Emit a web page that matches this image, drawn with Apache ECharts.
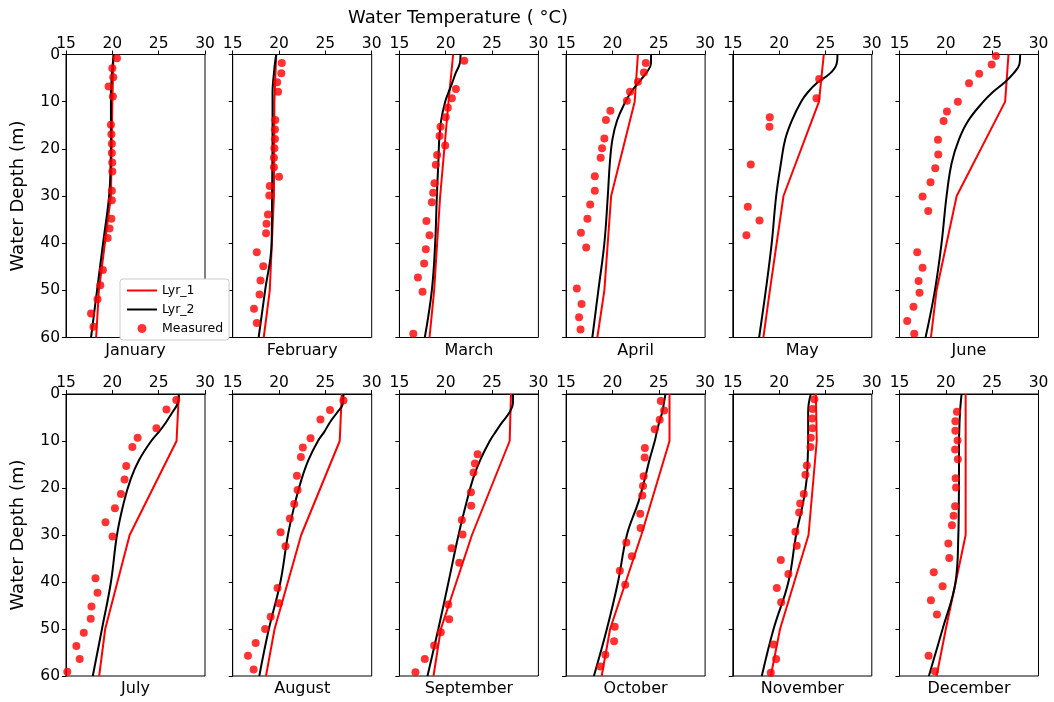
<!DOCTYPE html>
<html>
<head>
<meta charset="utf-8">
<script src="https://cdn.jsdelivr.net/npm/echarts@6/dist/echarts.min.js"></script>
<style>
  html, body { margin: 0; padding: 0; background: #fff; }
  #chart { width: 1054px; height: 702px; }
</style>
</head>
<body>
<div id="chart"></div>
<script>
// Monthly water temperature profiles: two model layers and measured values
const months = ['January', 'February', 'March', 'April', 'May', 'June',
                'July', 'August', 'September', 'October', 'November', 'December'];
const tempTicks = [15, 20, 25, 30];
const depthTicks = [0, 10, 20, 30, 40, 50, 60];

// Depths (m) at which each model layer is given
const lyr1Depth = [0, 10, 30, 50, 60];
const lyr2Depth = [0, 2, 4, 6, 8, 10, 14, 18, 23, 30, 40, 50, 60];

// Lyr_1 temperatures (°C) at lyr1Depth
const lyr1Jan = [20.13, 20.0, 19.85, 18.55, 18.25];
const lyr1Feb = [19.7, 19.5, 19.45, 19.0, 18.35];
const lyr1Mar = [20.8, 20.3, 19.4, 18.75, 18.25];
const lyr1Apr = [22.75, 22.4, 19.86, 19.13, 18.37];
const lyr1May = [24.82, 24.3, 20.47, 19.0, 18.3];
const lyr1Jun = [26.76, 26.4, 21.17, 19.0, 18.39];
const lyr1Jul = [27.18, 26.93, 21.87, 19.23, 18.58];
const lyr1Aug = [26.77, 26.55, 22.39, 19.52, 18.59];
const lyr1Sep = [27.04, 26.9, 22.83, 19.47, 18.68];
const lyr1Oct = [26.16, 26.16, 23.12, 19.75, 18.84];
const lyr1Nov = [23.96, 24.06, 23.17, 20.1, 19.1];
const lyr1Dec = [22.14, 22.14, 22.14, 20.0, 19.0];

// Lyr_2 temperatures (°C) at lyr2Depth
const lyr2Jan = [20.15, 20.05, 19.95, 19.9, 19.85, 19.85, 19.85, 19.85, 19.82, 19.65, 19.0, 18.35, 17.7];
const lyr2Feb = [19.7, 19.55, 19.45, 19.35, 19.3, 19.3, 19.3, 19.3, 19.28, 19.25, 19.2, 18.5, 17.8];
const lyr2Mar = [21.6, 21.5, 21.06, 20.7, 20.3, 19.94, 19.5, 19.3, 19.2, 19.04, 18.86, 18.5, 17.74];
const lyr2Apr = [24.17, 24.15, 23.6, 22.8, 22.0, 21.4, 20.5, 20.0, 19.72, 19.5, 19.13, 18.48, 17.83];
const lyr2May = [26.3, 26.2, 25.5, 24.1, 23.1, 22.37, 21.37, 20.65, 20.2, 19.68, 19.2, 18.56, 17.84];
const lyr2Jun = [28.02, 27.95, 27.3, 26.3, 25.05, 24.05, 22.43, 21.42, 20.63, 20.08, 19.54, 18.82, 17.81];
const lyr2Jul = [27.18, 27.05, 26.45, 25.8, 25.05, 24.2, 22.9, 22.0, 21.25, 20.5, 19.85, 18.88, 17.89];
const lyr2Aug = [26.95, 26.9, 26.25, 25.5, 24.9, 24.2, 23.18, 22.45, 21.75, 20.96, 20.15, 18.9, 17.87];
const lyr2Sep = [27.26, 27.25, 26.85, 26.1, 25.4, 24.75, 23.73, 22.95, 22.25, 21.38, 20.3, 19.2, 18.03];
const lyr2Oct = [25.72, 25.55, 25.36, 25.05, 24.8, 24.57, 24.0, 23.5, 22.8, 21.56, 20.6, 19.4, 18.0];
const lyr2Nov = [23.42, 23.2, 23.13, 23.13, 23.13, 23.13, 23.08, 22.98, 22.6, 21.83, 21.0, 19.4, 18.13];
const lyr2Dec = [21.7, 21.6, 21.53, 21.48, 21.45, 21.42, 21.42, 21.42, 21.4, 21.35, 21.05, 19.65, 18.17];

// Measured profiles as [depth (m), temperature (°C)]
const obsJan = [[0.8, 20.5], [2.9, 20.0], [4.8, 20.1], [6.8, 19.6], [8.9, 20.06], [14.9, 19.85],
  [16.9, 19.9], [18.9, 19.95], [20.9, 19.95], [22.9, 19.99], [24.8, 20.0], [28.9, 19.95],
  [30.9, 19.95], [34.8, 19.9], [36.9, 19.7], [38.9, 19.5], [45.7, 18.98], [48.9, 18.7],
  [51.9, 18.4], [54.9, 17.7], [57.7, 17.96]];
const obsFeb = [[1.8, 20.3], [4.0, 20.25], [5.9, 19.8], [7.9, 19.9], [13.9, 19.6], [15.9, 19.56],
  [17.9, 19.56], [19.9, 19.5], [21.9, 19.45], [23.9, 19.45], [25.9, 20.0], [27.9, 19.0],
  [29.9, 18.95], [33.9, 18.8], [35.9, 18.65], [37.9, 18.6], [41.9, 17.6], [44.9, 18.3],
  [47.9, 18.0], [50.9, 17.9], [53.9, 17.3], [56.9, 17.6]];
const obsMar = [[1.3, 22.0], [7.3, 21.1], [9.3, 20.66], [11.3, 20.23], [13.3, 20.0], [15.3, 19.44],
  [17.3, 19.33], [19.3, 19.94], [21.3, 19.07], [23.4, 18.93], [27.3, 18.79], [29.3, 18.64],
  [31.3, 18.5], [35.3, 17.92], [38.3, 18.25], [41.3, 17.85], [44.3, 17.67], [47.3, 17.0],
  [50.3, 17.5], [59.2, 16.5]];
const obsApr = [[1.8, 23.6], [3.8, 23.4], [5.8, 22.75], [7.9, 21.9], [9.8, 21.56], [11.9, 19.78],
  [13.9, 19.3], [17.8, 19.13], [19.9, 18.88], [21.9, 18.73], [25.8, 18.1], [28.9, 18.1],
  [31.8, 17.6], [34.8, 17.3], [37.8, 16.6], [40.9, 17.17], [49.6, 16.16], [52.9, 16.67],
  [55.7, 16.4], [58.3, 16.56]];
const obsMay = [[5.2, 24.32], [9.3, 24.03], [13.3, 18.99], [15.3, 18.96], [23.3, 16.94],
  [32.3, 16.62], [35.2, 17.88], [38.3, 16.47]];
const obsJun = [[0.3, 25.4], [2.1, 24.95], [4.1, 23.6], [6.1, 22.5], [10.0, 21.3], [12.1, 20.12],
  [14.1, 19.76], [18.1, 19.15], [21.2, 19.18], [24.1, 18.86], [27.1, 18.35], [30.1, 17.49],
  [33.2, 18.1], [41.9, 16.91], [45.2, 17.49], [48.0, 17.06], [50.5, 17.16], [53.5, 16.51],
  [56.5, 15.83], [59.2, 16.59]];
const obsJul = [[1.3, 26.9], [3.3, 25.84], [7.3, 24.76], [9.3, 22.73], [11.3, 22.16], [15.3, 21.5],
  [18.2, 21.32], [21.3, 20.93], [24.3, 20.28], [27.3, 19.26], [30.3, 20.02], [39.2, 18.18],
  [42.3, 18.4], [45.2, 17.75], [47.8, 17.67], [50.8, 16.92], [53.6, 16.12], [56.4, 16.48],
  [59.1, 15.14]];
const obsAug = [[1.4, 26.95], [3.4, 25.5], [5.4, 24.47], [9.4, 23.4], [11.4, 22.57], [13.4, 22.36],
  [17.4, 21.93], [20.4, 22.0], [23.4, 21.64], [26.5, 21.17], [29.4, 20.17], [32.4, 20.7],
  [41.3, 19.84], [44.5, 20.0], [47.4, 19.1], [50.0, 18.5], [53.0, 17.48], [55.7, 16.65],
  [58.6, 17.26]];
const obsSep = [[12.8, 23.44], [14.8, 23.15], [16.7, 23.0], [20.9, 22.72], [23.8, 22.75],
  [26.8, 21.74], [29.9, 21.82], [32.8, 20.63], [35.9, 21.46], [44.8, 20.27], [47.9, 20.37],
  [50.7, 19.47], [53.5, 18.75], [56.4, 17.74], [59.2, 16.73]];
const obsOct = [[1.5, 25.22], [3.5, 25.58], [5.5, 25.1], [7.5, 24.57], [11.5, 23.5], [13.5, 23.48],
  [17.5, 23.37], [19.6, 23.3], [21.6, 23.22], [25.5, 23.0], [28.5, 23.04], [31.6, 21.5],
  [34.5, 22.1], [37.6, 20.8], [40.6, 21.38], [49.5, 20.25], [52.6, 20.18], [55.5, 19.24],
  [58.0, 18.7]];
const obsNov = [[1.1, 23.8], [3.2, 23.6], [5.2, 23.56], [7.3, 23.6], [9.3, 23.42], [11.3, 23.38],
  [15.2, 22.99], [17.2, 22.84], [21.3, 22.66], [23.3, 22.27], [25.2, 22.16], [29.3, 21.76],
  [32.3, 21.9], [35.3, 20.18], [38.3, 21.0], [41.3, 19.75], [44.3, 20.22], [53.3, 19.39],
  [56.4, 19.68], [59.3, 19.1]];
const obsDec = [[3.8, 21.2], [5.8, 21.03], [7.8, 21.03], [9.9, 21.27], [11.8, 21.0], [13.9, 21.3],
  [17.9, 21.06], [19.9, 21.1], [23.9, 21.0], [25.9, 20.84], [27.9, 20.66], [31.8, 20.27],
  [34.9, 20.37], [37.9, 18.7], [40.9, 19.65], [43.9, 18.39], [46.9, 19.04], [55.7, 18.14],
  [59.0, 18.82]];

const lyr1All = [lyr1Jan, lyr1Feb, lyr1Mar, lyr1Apr, lyr1May, lyr1Jun, lyr1Jul, lyr1Aug, lyr1Sep, lyr1Oct, lyr1Nov, lyr1Dec];
const lyr2All = [lyr2Jan, lyr2Feb, lyr2Mar, lyr2Apr, lyr2May, lyr2Jun, lyr2Jul, lyr2Aug, lyr2Sep, lyr2Oct, lyr2Nov, lyr2Dec];
const obsAll = [obsJan, obsFeb, obsMar, obsApr, obsMay, obsJun, obsJul, obsAug, obsSep, obsOct, obsNov, obsDec];

const FONT = 'DejaVu Sans';
const panelW = 139;
const colStep = 166.7;
const firstLeft = 66;
const rowTops = [54.5, 394];
const rowHeights = [283, 282];
const clear = 'rgba(0,0,0,0)';

const grids = [], xAxes = [], yAxes = [], series = [], graphics = [];

months.forEach((name, i) => {
  const row = Math.floor(i / 6), col = i % 6;
  const left = firstLeft + col * colStep;
  grids.push({
    left: left, top: rowTops[row], width: panelW, height: rowHeights[row],
    show: true, borderColor: '#000', borderWidth: 1, backgroundColor: 'transparent'
  });
  xAxes.push({
    gridIndex: i, type: 'value', position: 'top',
    min: tempTicks[0], max: tempTicks[tempTicks.length - 1], interval: 5,
    axisLine: { show: true, lineStyle: { color: '#000', width: 1 } },
    axisTick: { show: true, inside: false, length: 4, lineStyle: { color: '#000' } },
    axisLabel: { show: true, color: '#000', fontSize: 15.5, fontFamily: FONT, margin: 3 },
    splitLine: { show: false }
  });
  yAxes.push({
    gridIndex: i, type: 'value', inverse: true,
    min: depthTicks[0], max: depthTicks[depthTicks.length - 1], interval: 10,
    axisLine: { show: true, lineStyle: { color: '#000', width: 1 } },
    axisTick: { show: true, inside: false, length: 4, lineStyle: { color: '#000' } },
    axisLabel: { show: col === 0, color: '#000', fontSize: 15.5, fontFamily: FONT, margin: 6 },
    splitLine: { show: false }
  });
  series.push({
    name: 'Lyr_1', type: 'line', xAxisIndex: i, yAxisIndex: i,
    data: lyr1Depth.map((d, k) => [lyr1All[i][k], d]),
    symbol: 'none', lineStyle: { color: '#ff0000', width: 2 }, itemStyle: { color: clear },
    z: 2, animation: false
  });
  series.push({
    name: 'Lyr_2', type: 'line', xAxisIndex: i, yAxisIndex: i,
    data: lyr2Depth.map((d, k) => [lyr2All[i][k], d]),
    symbol: 'none', smooth: 0.4, lineStyle: { color: '#000000', width: 2 }, itemStyle: { color: clear },
    z: 3, animation: false
  });
  series.push({
    name: 'Measured', type: 'scatter', xAxisIndex: i, yAxisIndex: i,
    data: obsAll[i].map(p => [p[1], p[0]]),
    symbol: 'circle', symbolSize: 8,
    itemStyle: { color: '#ff0000', opacity: 0.8 },
    z: 4, animation: false
  });
  graphics.push({
    type: 'text', x: left + panelW / 2, y: rowTops[row] + rowHeights[row] + 13,
    style: { text: name, font: '16px "DejaVu Sans"', fill: '#000', align: 'center', verticalAlign: 'middle' }
  });
});

// Axis titles
graphics.push({
  type: 'text', x: 458, y: 18,
  style: { text: 'Water Temperature ( °C)', font: '18px "DejaVu Sans"', fill: '#000',
           align: 'center', verticalAlign: 'middle' }
});
[rowTops[0] + rowHeights[0] / 2, rowTops[1] + rowHeights[1] / 2].forEach(cy => {
  graphics.push({
    type: 'text', x: 18, y: cy, rotation: Math.PI / 2,
    style: { text: 'Water Depth (m)', font: '18px "DejaVu Sans"', fill: '#000',
             align: 'center', verticalAlign: 'middle' }
  });
});

const chart = echarts.init(document.getElementById('chart'), null, { renderer: 'canvas' });
chart.setOption({
  backgroundColor: '#ffffff',
  animation: false,
  grid: grids,
  xAxis: xAxes,
  yAxis: yAxes,
  series: series,
  legend: {
    data: ['Lyr_1', 'Lyr_2', 'Measured'],
    orient: 'vertical', left: 120, top: 279,
    itemWidth: 30, itemHeight: 9, itemGap: 6,
    padding: [5, 6, 5, 6],
    backgroundColor: '#ffffff', borderColor: '#cccccc', borderWidth: 1, borderRadius: 3,
    textStyle: { fontFamily: FONT, fontSize: 12.5, color: '#000' },
    selectedMode: false, z: 10
  },
  graphic: graphics
});
</script>
</body>
</html>
